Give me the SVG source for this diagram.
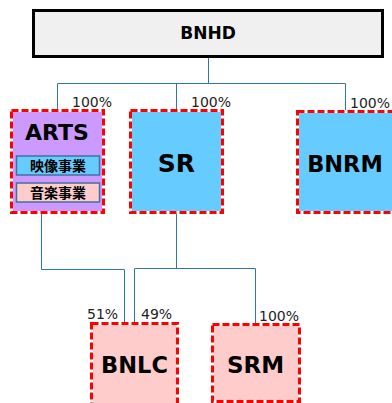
<svg xmlns="http://www.w3.org/2000/svg" width="392" height="403" viewBox="0 0 392 403">
<style>
.conn{fill:none;stroke:#2e75b6;stroke-width:1}
.co{stroke:#ff0000;stroke-width:3;stroke-dasharray:7 3}
.lbl{font-family:"DejaVu Sans",Verdana,sans-serif;font-weight:bold;fill:#000;text-anchor:middle}
.pct{font-family:"DejaVu Sans",Verdana,sans-serif;font-size:14px;fill:#222}
.jp{font-family:"DejaVu Sans","Noto Sans CJK JP",sans-serif;font-weight:bold;font-size:14px;text-anchor:middle;fill:#000}
.sub{stroke:#41719c;stroke-width:1.5}
</style>
<rect width="392" height="403" fill="#fff"/>
<g id="connectors">
<path class="conn" d="M208.5 57V83.5M57.5 110V83.5H345.5V110M176.5 83.5V110"/>
<path class="conn" d="M41.5 213V269.5H124.5V323"/>
<path class="conn" d="M176.5 213V268.5M134.5 323V268.5H255.5V324"/>
</g>
<g id="BNHD">
<rect x="33.5" y="10.5" width="349" height="46" fill="#f0f0f0" stroke="#000" stroke-width="3"/>
<text class="lbl" x="208" y="39" font-size="17">BNHD</text>
</g>
<g id="ARTS">
<rect x="11.5" y="110.5" width="92" height="102" fill="#cc99ff" stroke="#fff" stroke-width="3"/>
<rect class="co" x="11.5" y="110.5" width="92" height="102" fill="none"/>
<text class="lbl" x="57" y="140" font-size="22">ARTS</text>
<rect class="sub" x="16.5" y="156" width="83" height="19" fill="#66ccff"/>
<text class="jp" x="58" y="171">映像事業</text>
<rect class="sub" x="16.5" y="183" width="83" height="19" fill="#ffcccc"/>
<text class="jp" x="58" y="198">音楽事業</text>
<text class="pct" x="72" y="107">100%</text>
</g>
<g id="SR">
<rect x="130.5" y="110.5" width="92" height="102" fill="#66ccff" stroke="#fff" stroke-width="3"/>
<rect class="co" x="130.5" y="110.5" width="92" height="102" fill="none"/>
<text class="lbl" x="176.5" y="172" font-size="25">SR</text>
<text class="pct" x="191" y="107">100%</text>
</g>
<g id="BNRM">
<rect x="297.5" y="111.5" width="96" height="101" fill="#66ccff" stroke="#fff" stroke-width="3"/>
<rect class="co" x="297.5" y="111.5" width="96" height="101" fill="none"/>
<text class="lbl" x="345" y="172" font-size="22.5">BNRM</text>
<text class="pct" x="350" y="108">100%</text>
</g>
<g id="BNLC">
<rect x="91.5" y="323.5" width="86" height="82" fill="#ffcccc" stroke="#fff" stroke-width="3"/>
<rect class="co" x="91.5" y="323.5" width="86" height="82" fill="none"/>
<text class="lbl" x="134.5" y="373" font-size="22.5">BNLC</text>
<text class="pct" x="87" y="319">51%</text>
<text class="pct" x="141" y="319">49%</text>
</g>
<g id="SRM">
<rect x="212.5" y="324.5" width="87" height="77" fill="#ffcccc" stroke="#fff" stroke-width="3"/>
<rect class="co" x="212.5" y="324.5" width="87" height="77" fill="none"/>
<text class="lbl" x="255.5" y="373" font-size="23">SRM</text>
<text class="pct" x="259" y="321">100%</text>
</g>
</svg>
